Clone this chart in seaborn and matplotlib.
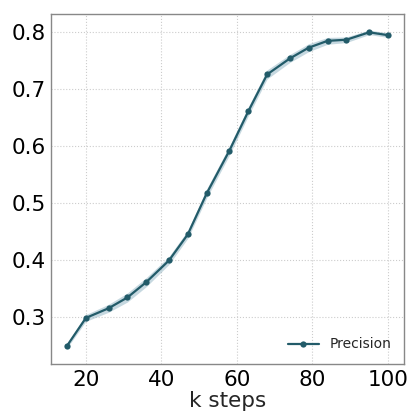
import numpy as np
import pandas as pd
import matplotlib
matplotlib.use("Agg")
import matplotlib.pyplot as plt
import seaborn as sns

# k steps and mean precision with its confidence band
k_steps = [15, 20, 26, 31, 36, 42, 47, 52, 58, 63, 68, 74, 79, 84, 89, 95, 100]
precision = [0.249, 0.298, 0.315, 0.334, 0.361, 0.399, 0.445, 0.517, 0.592,
             0.661, 0.726, 0.754, 0.773, 0.785, 0.787, 0.800, 0.795]
band_low = [0.245, 0.292, 0.308, 0.326, 0.353, 0.392, 0.438, 0.509, 0.584,
            0.653, 0.718, 0.747, 0.766, 0.779, 0.782, 0.796, 0.791]
band_high = [0.253, 0.304, 0.322, 0.342, 0.369, 0.406, 0.452, 0.525, 0.600,
             0.669, 0.734, 0.761, 0.780, 0.791, 0.792, 0.804, 0.799]

df = pd.DataFrame({"k steps": k_steps, "Precision": precision})

sns.set_theme(style="whitegrid")
plt.rcParams["font.family"] = ["DejaVu Sans"]

color = "#225b69"
fig, ax = plt.subplots(figsize=(4.11, 4.16), dpi=100)

ax.fill_between(k_steps, band_low, band_high, color="#8fb3c2", alpha=0.5, lw=0)
sns.lineplot(data=df, x="k steps", y="Precision", ax=ax, color=color,
             marker="o", markersize=4.5, markeredgewidth=0, linewidth=1.6,
             label="Precision")

ax.grid(True, linestyle=":", color="#cccccc", linewidth=0.8)
for s in ax.spines.values():
    s.set_color("#888888")
    s.set_linewidth(1.0)

ax.set_xticks([20, 40, 60, 80, 100])
ax.set_yticks([0.3, 0.4, 0.5, 0.6, 0.7, 0.8])
ax.tick_params(axis="both", labelsize=15.5, colors="black", length=0, pad=4)
ax.set_xlabel("k steps", fontsize=15.5, labelpad=1)
ax.set_ylabel("")

leg = ax.legend(loc="lower right", frameon=False, fontsize=10, handlelength=2.2)

fig.subplots_adjust(left=0.124, right=0.983, top=0.966, bottom=0.125)
fig.savefig("out.png", dpi=100)
